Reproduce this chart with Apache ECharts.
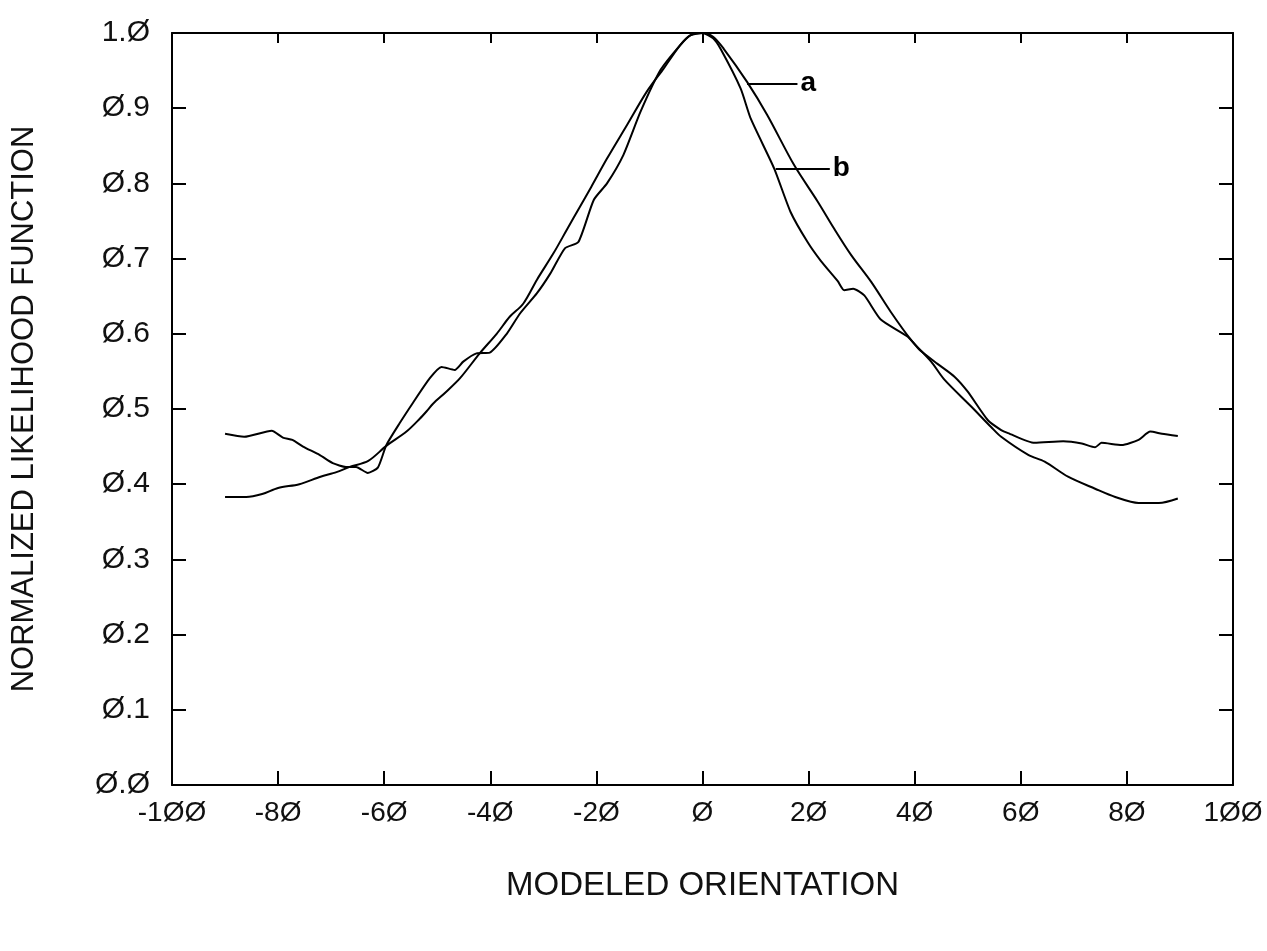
<!DOCTYPE html>
<html>
<head>
<meta charset="utf-8">
<script src="https://cdn.jsdelivr.net/npm/echarts@6/dist/echarts.min.js"></script>
<style>
  html, body { margin: 0; background: #fff; }
  #chart { width: 1267px; height: 951px; }
</style>
</head>
<body>
<div id="chart"></div>
<script>
// curve a: the smooth one, tails near 0.38
const curveAX = [-90, -86, -83, -80, -76, -72, -69, -66.5, -63, -59.6, -55.8, -53.3, -52, -50.8, -48.3, -45.7, -42, -38.8, -36.3, -33.8, -31.2, -28.1, -25.6, -23.1, -21, -18, -14.2, -10.5, -7.3, -4.2, -2.3, 0, 2, 4, 8.4, 12.2, 17.3, 21.7, 24.8, 28, 31.8, 35.5, 39.3, 43.1, 45.6, 50.7, 54.4, 56.3, 61.4, 64.5, 68.9, 74, 77.8, 82.2, 86, 89.6];
const curveAY = [0.383, 0.383, 0.387, 0.395, 0.400, 0.410, 0.416, 0.423, 0.431, 0.451, 0.470, 0.487, 0.497, 0.507, 0.523, 0.541, 0.574, 0.600, 0.623, 0.640, 0.672, 0.707, 0.738, 0.769, 0.795, 0.833, 0.878, 0.922, 0.953, 0.984, 0.997, 1.0, 0.995, 0.979, 0.935, 0.891, 0.824, 0.776, 0.740, 0.705, 0.669, 0.629, 0.592, 0.563, 0.539, 0.503, 0.476, 0.463, 0.439, 0.430, 0.410, 0.394, 0.383, 0.375, 0.375, 0.381];

// curve b: the bumpy one, tails near 0.46
const curveBX = [-90, -86.4, -81.2, -79.1, -77.3, -75.3, -72.2, -69.7, -67.2, -65.3, -63.1, -61.2, -59.6, -57.1, -54.6, -51.4, -49.2, -46.7, -45.1, -42.6, -40.1, -36.9, -34.4, -31.2, -28.7, -25.9, -23.4, -20.5, -18, -14.9, -11.7, -7.9, -4.2, -2.3, 0, 2, 3.4, 7.2, 9.1, 13.5, 16.6, 19.8, 22.3, 25.5, 26.7, 28.4, 30.5, 33.6, 38.7, 41, 44.3, 47.5, 50, 53.8, 56.3, 57.6, 62.6, 68, 71.5, 74, 75.2, 79, 82.2, 84.4, 86.6, 89.6];
const curveBY = [0.467, 0.463, 0.471, 0.462, 0.459, 0.450, 0.439, 0.428, 0.423, 0.423, 0.415, 0.422, 0.452, 0.481, 0.508, 0.541, 0.556, 0.552, 0.563, 0.574, 0.575, 0.600, 0.627, 0.654, 0.680, 0.714, 0.722, 0.778, 0.800, 0.838, 0.895, 0.951, 0.984, 0.997, 1.0, 0.993, 0.979, 0.926, 0.886, 0.820, 0.762, 0.722, 0.697, 0.670, 0.658, 0.660, 0.651, 0.619, 0.596, 0.578, 0.560, 0.543, 0.523, 0.485, 0.472, 0.468, 0.455, 0.457, 0.454, 0.449, 0.455, 0.452, 0.459, 0.470, 0.467, 0.464];

// curve labels with their leader lines
const labelNames = ['a', 'b'];
const labelY = [0.933, 0.820];
const leaderFrom = [8.4, 13.8];
const leaderTo = [17.9, 24.0];

const zeroSlash = s => s.replace(/0/g, 'Ø');
const plotFont = 'Liberation Sans, DejaVu Sans, sans-serif';

const chart = echarts.init(document.getElementById('chart'));

const pairs = (xs, ys) => xs.map((x, i) => [x, ys[i]]);

const frameLine = {onZero: false, lineStyle: {color: '#000', width: 2}};

chart.setOption({
  animation: false,
  backgroundColor: '#fff',
  grid: {left: 172, right: 34, top: 33, bottom: 166, outerBoundsMode: 'none'},
  xAxis: [
    {
      type: 'value',
      min: -100,
      max: 100,
      interval: 20,
      name: 'MODELED ORIENTATION',
      nameLocation: 'middle',
      nameGap: 84,
      nameTextStyle: {fontFamily: plotFont, fontSize: 33, color: '#111'},
      axisLine: frameLine,
      axisTick: {inside: true, length: 14, lineStyle: {color: '#000', width: 2}},
      axisLabel: {
        margin: 14,
        fontFamily: plotFont,
        fontSize: 28,
        color: '#111',
        formatter: v => zeroSlash(String(v))
      },
      splitLine: {show: false}
    },
    {
      type: 'value',
      position: 'top',
      min: -100,
      max: 100,
      interval: 20,
      axisLine: frameLine,
      axisTick: {inside: true, length: 10, lineStyle: {color: '#000', width: 2}},
      axisLabel: {show: false},
      splitLine: {show: false}
    }
  ],
  yAxis: [
    {
      type: 'value',
      min: 0,
      max: 1,
      interval: 0.1,
      name: 'NORMALIZED LIKELIHOOD FUNCTION',
      nameLocation: 'middle',
      nameGap: 132,
      nameTextStyle: {fontFamily: plotFont, fontSize: 31, color: '#111'},
      axisLine: frameLine,
      axisTick: {inside: true, length: 14, lineStyle: {color: '#000', width: 2}},
      axisLabel: {
        margin: 22,
        fontFamily: plotFont,
        fontSize: 30,
        color: '#111',
        formatter: v => zeroSlash(v.toFixed(1))
      },
      splitLine: {show: false}
    },
    {
      type: 'value',
      position: 'right',
      min: 0,
      max: 1,
      interval: 0.1,
      axisLine: frameLine,
      axisTick: {inside: true, length: 14, lineStyle: {color: '#000', width: 2}},
      axisLabel: {show: false},
      splitLine: {show: false}
    }
  ],
  series: [
    {
      name: 'a',
      type: 'line',
      data: pairs(curveAX, curveAY),
      showSymbol: false,
      smooth: 0.3,
      lineStyle: {color: '#000', width: 2},
      markLine: {
        silent: true,
        symbol: 'none',
        lineStyle: {color: '#000', width: 2, type: 'solid'},
        label: {
          show: true,
          position: 'end',
          distance: 3,
          formatter: p => p.name,
          fontFamily: plotFont,
          fontWeight: 'bold',
          fontSize: 28,
          color: '#000'
        },
        data: labelNames.map((n, i) => [
          {name: n, coord: [leaderFrom[i], labelY[i]]},
          {coord: [leaderTo[i], labelY[i]]}
        ])
      }
    },
    {
      name: 'b',
      type: 'line',
      data: pairs(curveBX, curveBY),
      showSymbol: false,
      smooth: 0.2,
      lineStyle: {color: '#000', width: 2}
    }
  ]
});
</script>
</body>
</html>
